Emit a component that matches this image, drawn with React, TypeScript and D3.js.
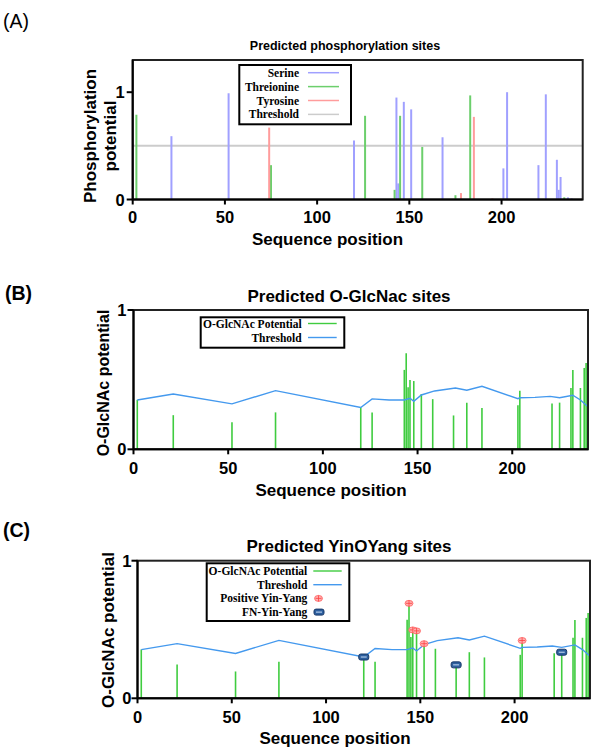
import React from "react";
import * as d3 from "d3";

// Panel A: phosphorylation potential per site, [position, potential]
const serineSites: [number, number][] = [
  [21, 0.59], [52, 0.99], [120, 0.55], [143, 0.95], [144, 0.15], [147, 0.91],
  [151, 0.84], [168, 0.58], [201, 0.29], [203, 1.0], [220, 0.32], [224, 0.98],
  [230, 0.37], [231, 0.09], [232, 0.21], [236, 0.02], [238, 0.01],
];
const threonineSites: [number, number][] = [
  [2, 0.79], [75, 0.32], [126, 0.78], [142, 0.09], [145, 0.78], [157, 0.49],
  [175, 0.04], [183, 0.97], [234, 0.02],
];
const tyrosineSites: [number, number][] = [
  [74, 0.67], [178, 0.06], [185, 0.77], [195, 0.01],
];
const phosThreshold = 0.5;

// Panels B and C: O-GlcNAc potential and threshold
const glcnacSites: [number, number][] = [
  [2, 0.355], [21, 0.245], [52, 0.195], [75, 0.265], [120, 0.3], [126, 0.265],
  [143, 0.57], [144, 0.69], [145, 0.445], [146, 0.497], [148, 0.49], [152, 0.397],
  [158, 0.36], [169, 0.243], [176, 0.335], [184, 0.297], [203, 0.316], [204, 0.42],
  [221, 0.328], [225, 0.335], [231, 0.44], [232, 0.569], [236, 0.44], [238, 0.584],
  [239, 0.62],
];
const glcnacThreshold: [number, number][] = [
  [2, 0.354], [21, 0.397], [52, 0.326], [75, 0.421], [120, 0.3], [126, 0.362],
  [135, 0.354], [143, 0.354], [146, 0.366], [148, 0.344], [152, 0.39], [159, 0.419],
  [170, 0.44], [176, 0.424], [184, 0.452], [203, 0.363], [204, 0.37], [212, 0.373],
  [220, 0.38], [225, 0.37], [232, 0.388], [236, 0.354], [240, 0.306],
];
const positiveYinYang: [number, number][] = [
  [144, 0.69], [146, 0.497], [148, 0.49], [152, 0.397], [204, 0.42],
];
const fnYinYang: [number, number][] = [[120, 0.3], [169, 0.243], [225, 0.335]];

const xTicks = [0, 50, 100, 150, 200];
const yTicks = [0, 1];

const SANS = "'Liberation Sans', Arial, sans-serif";
const SERIF = "'Liberation Serif', 'Times New Roman', serif";

const colors = {
  serine: "#a0a0ff",
  threonine: "#6ccf6c",
  tyrosine: "#ff9c9c",
  grayThreshold: "#cccccc",
  glcnac: "#3fcc3f",
  blueThreshold: "#4499ee",
};

type Scale = d3.ScaleLinear<number, number>;

const Axes = ({ xs, ys, labelDy, yLabelGap }: { xs: Scale; ys: Scale; labelDy: number; yLabelGap: number }) => {
  const [x0, x1] = xs.range();
  const [yb, yt] = ys.range();
  return (
    <g>
      {/* frame */}
      <rect x={x0} y={yt} width={x1 - x0} height={yb - yt} fill="none" stroke="#222" strokeWidth={2} />
      <line x1={x0} x2={x0} y1={yt} y2={yb} stroke="#000" strokeWidth={2} />
      <line x1={x0} x2={x1} y1={yb} y2={yb} stroke="#000" strokeWidth={2} />
      {xTicks.map((t) => (
        <g key={t}>
          <line x1={xs(t)} x2={xs(t)} y1={yb} y2={yb + 5} stroke="#000" strokeWidth={2} />
          <text
            x={xs(t)}
            y={yb + labelDy}
            textAnchor="middle"
            dominantBaseline="central"
            fontFamily={SANS}
            fontWeight="bold"
            fontSize={16.5}
          >
            {t}
          </text>
        </g>
      ))}
      {yTicks.map((t) => (
        <g key={t}>
          <line x1={x0 - 6} x2={x0} y1={ys(t)} y2={ys(t)} stroke="#000" strokeWidth={2} />
          <text
            x={x0 - yLabelGap}
            y={ys(t)}
            textAnchor="end"
            dominantBaseline="central"
            fontFamily={SANS}
            fontWeight="bold"
            fontSize={16.5}
          >
            {t}
          </text>
        </g>
      ))}
    </g>
  );
};

const Bars = ({ data, xs, ys, color, width }: { data: [number, number][]; xs: Scale; ys: Scale; color: string; width: number }) => (
  <g>
    {data.map(([p, v], i) => (
      <line key={i} x1={xs(p)} x2={xs(p)} y1={ys(0)} y2={ys(v)} stroke={color} strokeWidth={width} />
    ))}
  </g>
);

const PositiveMarker = ({ x, y }: { x: number; y: number }) => (
  <g>
    <ellipse cx={x} cy={y} rx={4} ry={3} fill="#ffb0b0" stroke="#ff6060" strokeWidth={0.8} />
    <line x1={x - 3} x2={x + 3} y1={y} y2={y} stroke="#ff4040" strokeWidth={0.8} />
    <line x1={x} x2={x} y1={y - 3} y2={y + 3} stroke="#ff4040" strokeWidth={0.8} />
  </g>
);

const FnMarker = ({ x, y }: { x: number; y: number }) => (
  <g>
    <rect x={x - 5} y={y - 3} width={10} height={6} rx={2} fill="#2d5f9e" stroke="#173869" strokeWidth={1} />
    <line x1={x - 3} x2={x + 3} y1={y} y2={y} stroke="#c8dcf5" strokeWidth={1} />
  </g>
);

const legendText = {
  fontFamily: SERIF,
  fontWeight: "bold" as const,
  fontSize: 11.5,
  textAnchor: "end" as const,
  dominantBaseline: "central" as const,
};

const PanelA = () => {
  const xs = d3.scaleLinear().domain([0, 244]).range([132.7, 582.7]);
  const ys = d3.scaleLinear().domain([0, 1.3]).range([199.5, 60]);
  const legend = [
    { name: "Serine", color: colors.serine },
    { name: "Threionine", color: colors.threonine },
    { name: "Tyrosine", color: colors.tyrosine },
    { name: "Threshold", color: colors.grayThreshold },
  ];
  return (
    <g>
      <text x={3} y={21} dominantBaseline="central" fontFamily={SANS} fontSize={19.5}>(A)</text>
      <text x={345} y={46} textAnchor="middle" dominantBaseline="central" fontFamily={SANS} fontWeight="bold" fontSize={12.5}>
        Predicted phosphorylation sites
      </text>
      <line x1={xs(0)} x2={xs(244)} y1={ys(phosThreshold)} y2={ys(phosThreshold)} stroke={colors.grayThreshold} strokeWidth={2} />
      <Bars data={serineSites} xs={xs} ys={ys} color={colors.serine} width={2} />
      <Bars data={threonineSites} xs={xs} ys={ys} color={colors.threonine} width={2} />
      <Bars data={tyrosineSites} xs={xs} ys={ys} color={colors.tyrosine} width={2} />
      <Axes xs={xs} ys={ys} labelDy={17.5} yLabelGap={8} />
      <g transform="translate(90.7,136) rotate(-90)">
        <text textAnchor="middle" dominantBaseline="central" fontFamily={SANS} fontWeight="bold" fontSize={17}>Phosphorylation</text>
      </g>
      <g transform="translate(110,136) rotate(-90)">
        <text textAnchor="middle" dominantBaseline="central" fontFamily={SANS} fontWeight="bold" fontSize={17}>potential</text>
      </g>
      <text x={327.5} y={239} textAnchor="middle" dominantBaseline="central" fontFamily={SANS} fontWeight="bold" fontSize={17}>
        Sequence position
      </text>
      <rect x={239.3} y={65} width={111.7} height={59.3} fill="#fff" stroke="#000" strokeWidth={2} />
      {legend.map((d, i) => (
        <g key={d.name}>
          <text x={299} y={72.7 + i * 13.9} {...legendText}>{d.name}</text>
          <line x1={308} x2={339} y1={72.7 + i * 13.9} y2={72.7 + i * 13.9} stroke={d.color} strokeWidth={1.5} />
        </g>
      ))}
    </g>
  );
};

const GlcPanel = ({ yinyang }: { yinyang: boolean }) => {
  const xs = yinyang
    ? d3.scaleLinear().domain([0, 240]).range([137.5, 590])
    : d3.scaleLinear().domain([0, 240]).range([133.5, 588]);
  const ys = yinyang
    ? d3.scaleLinear().domain([0, 1]).range([698.3, 560.7])
    : d3.scaleLinear().domain([0, 1]).range([449.3, 310]);
  const line = d3.line<[number, number]>().x((d) => xs(d[0])).y((d) => ys(d[1]));
  const top = ys(1);
  const bottom = ys(0);
  const legend = yinyang
    ? { x: 206.7, y: 563.3, w: 142.6, h: 57.7, tx: 307.3, lx: 313.3, lx2: 341.7, first: 571, step: 13.7 }
    : { x: 200.7, y: 317.3, w: 143.6, h: 30.4, tx: 301.7, lx: 308, lx2: 336.7, first: 323.5, step: 14 };
  return (
    <g>
      <text
        x={yinyang ? 3 : 5}
        y={yinyang ? 530 : 293}
        dominantBaseline="central"
        fontFamily={SANS}
        fontWeight="bold"
        fontSize={19.5}
      >
        {yinyang ? "(C)" : "(B)"}
      </text>
      <text x={349} y={top - 14} textAnchor="middle" dominantBaseline="central" fontFamily={SANS} fontWeight="bold" fontSize={17}>
        {yinyang ? "Predicted YinOYang sites" : "Predicted O-GlcNac sites"}
      </text>
      <Bars data={glcnacSites} xs={xs} ys={ys} color={colors.glcnac} width={1.6} />
      <path d={line(glcnacThreshold) ?? ""} fill="none" stroke={colors.blueThreshold} strokeWidth={1.4} />
      {yinyang && positiveYinYang.map(([p, v], i) => <PositiveMarker key={i} x={xs(p)} y={ys(v)} />)}
      {yinyang && fnYinYang.map(([p, v], i) => <FnMarker key={i} x={xs(p)} y={ys(v)} />)}
      <Axes xs={xs} ys={ys} labelDy={18.2} yLabelGap={yinyang ? 6 : 7} />
      <g transform={`translate(${yinyang ? 108 : 103},${yinyang ? 630 : 383}) rotate(-90)`}>
        <text textAnchor="middle" dominantBaseline="central" fontFamily={SANS} fontWeight="bold" fontSize={yinyang ? 17 : 16}>
          O-GlcNAc potential
        </text>
      </g>
      <text
        x={yinyang ? 335 : 331}
        y={bottom + (yinyang ? 40 : 40.7)}
        textAnchor="middle"
        dominantBaseline="central"
        fontFamily={SANS}
        fontWeight="bold"
        fontSize={17}
      >
        Sequence position
      </text>
      <rect x={legend.x} y={legend.y} width={legend.w} height={legend.h} fill="#fff" stroke="#000" strokeWidth={2} />
      <text x={legend.tx} y={legend.first} {...legendText}>O-GlcNAc Potential</text>
      <line x1={legend.lx} x2={legend.lx2} y1={legend.first} y2={legend.first} stroke={colors.glcnac} strokeWidth={1.4} />
      <text x={legend.tx} y={legend.first + legend.step} {...legendText}>Threshold</text>
      <line
        x1={legend.lx}
        x2={legend.lx2}
        y1={legend.first + legend.step}
        y2={legend.first + legend.step}
        stroke={colors.blueThreshold}
        strokeWidth={1.4}
      />
      {yinyang && (
        <>
          <text x={legend.tx} y={legend.first + legend.step * 2} {...legendText}>Positive Yin-Yang</text>
          <PositiveMarker x={318.5} y={legend.first + legend.step * 2} />
          <text x={legend.tx} y={legend.first + legend.step * 3} {...legendText}>FN-Yin-Yang</text>
          <FnMarker x={319} y={legend.first + legend.step * 3} />
        </>
      )}
    </g>
  );
};

export default function App() {
  return (
    <svg
      width={600}
      height={755}
      style={{ position: "absolute", left: 0, top: 0, background: "#fff" }}
    >
      <PanelA />
      <GlcPanel yinyang={false} />
      <GlcPanel yinyang={true} />
    </svg>
  );
}
